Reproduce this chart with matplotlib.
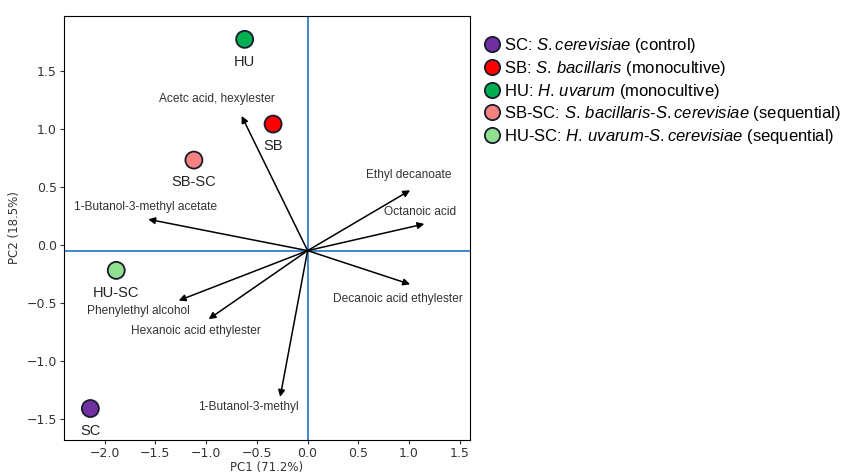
import matplotlib.pyplot as plt
from matplotlib.lines import Line2D

# sample scores (PC1, PC2)
samples = ["SC", "SB", "HU", "SB-SC", "HU-SC"]
pc1 = [-2.14, -0.34, -0.62, -1.12, -1.885]
pc2 = [-1.41, 1.04, 1.77, 0.73, -0.22]
colors = ["#7030A0", "#FF0000", "#00B050", "#F4837F", "#90E090"]
legend_labels = [
    r"SC: $\it{S.cerevisiae}$ (control)",
    r"SB: $\it{S.\ \!bacillaris}$ (monocultive)",
    r"HU: $\it{H.\ \!uvarum}$ (monocultive)",
    r"SB-SC: $\it{S.\ \!bacillaris}$-$\it{S.cerevisiae}$ (sequential)",
    r"HU-SC: $\it{H.\ \!uvarum}$-$\it{S.cerevisiae}$ (sequential)",
]

# loadings (arrow tips) and label positions
compounds = ["Acetc acid, hexylester", "Ethyl decanoate", "Octanoic acid",
             "1-Butanol-3-methyl acetate", "Phenylethyl alcohol",
             "Hexanoic acid ethylester", "Decanoic acid ethylester",
             "1-Butanol-3-methyl"]
load_x = [-0.65, 1.01, 1.15, -1.57, -1.27, -0.975, 1.01, -0.27]
load_y = [1.11, 0.47, 0.18, 0.22, -0.48, -0.64, -0.34, -1.31]
lab_x = [-0.89, 1.0, 1.11, -1.6, -1.67, -1.10, 0.89, -0.58]
lab_y = [1.26, 0.60, 0.28, 0.325, -0.57, -0.74, -0.47, -1.40]

origin = (0.0, -0.05)

plt.rcParams['mathtext.fontset'] = 'custom'
plt.rcParams['mathtext.it'] = 'Liberation Sans:italic'
plt.rcParams['mathtext.rm'] = 'Liberation Sans'

fig = plt.figure(figsize=(8.53, 4.74), dpi=100)
ax = fig.add_axes([0.075, 0.072, 0.476, 0.894])

ax.axhline(origin[1], color="#2F7FC8", lw=1.3, zorder=1)
ax.axvline(origin[0], color="#2F7FC8", lw=1.3, zorder=1)

for lx, ly, tx, ty, name in zip(load_x, load_y, lab_x, lab_y, compounds):
    ax.annotate("", xy=(lx, ly), xytext=origin,
                arrowprops=dict(arrowstyle="-|>", color="black", lw=1.1,
                                mutation_scale=10, shrinkA=0, shrinkB=0))
    ax.text(tx, ty, name, ha="center", va="center", fontsize=8.6,
            family="Liberation Sans", color="#333333")

ax.scatter(pc1, pc2, s=150, c=colors, edgecolors="#1a1a2e", linewidths=1.3, zorder=3)
for x, y, name in zip(pc1, pc2, samples):
    ax.annotate(name, (x, y), xytext=(0, -11), textcoords="offset points",
                ha="center", va="top", fontsize=10.5, family="Liberation Sans",
                color="#222222")

ax.set_xlim(-2.40, 1.6)
ax.set_ylim(-1.68, 1.97)
ax.set_xticks([-2.0, -1.5, -1.0, -0.5, 0.0, 0.5, 1.0, 1.5])
ax.set_yticks([-1.5, -1.0, -0.5, 0.0, 0.5, 1.0, 1.5])
ax.tick_params(labelsize=9, colors="#333333", length=3, pad=2)
ax.set_xlabel("PC1 (71.2%)", fontsize=8.5, color="#333333", labelpad=1)
ax.set_ylabel("PC2 (18.5%)", fontsize=8.5, color="#333333", labelpad=4)

handles = [Line2D([], [], marker="o", ls="none", markersize=11,
                  markerfacecolor=c, markeredgecolor="#1a1a2e", markeredgewidth=1.3)
           for c in colors]
leg = fig.legend(handles, legend_labels, loc="upper left",
                 bbox_to_anchor=(0.548, 0.955), frameon=False,
                 prop={"family": "Liberation Sans", "size": 12},
                 handletextpad=0.1, labelspacing=0.22, handlelength=1.2)

plt.savefig("out.png", dpi=100)
